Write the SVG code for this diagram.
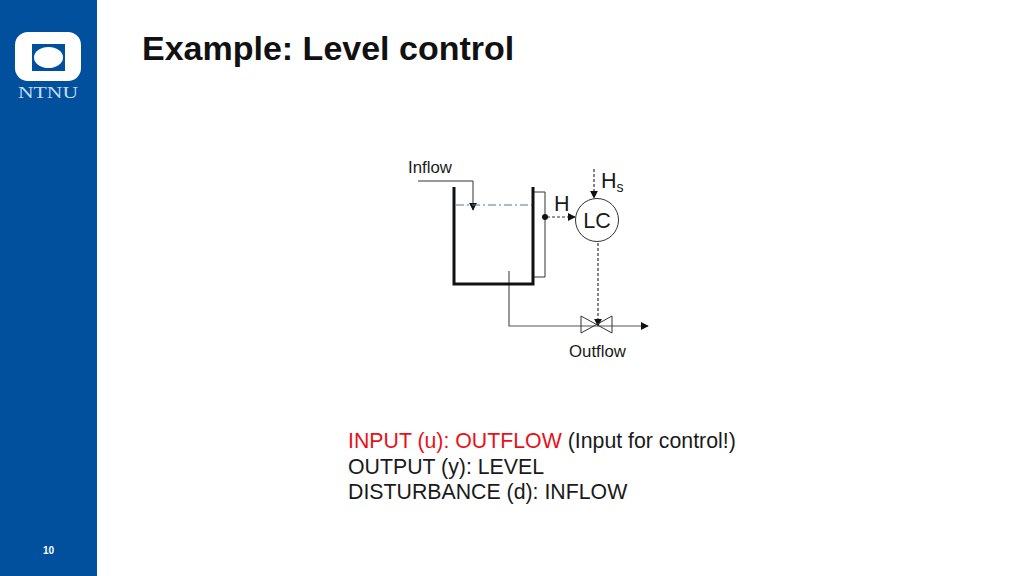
<svg xmlns="http://www.w3.org/2000/svg" width="1024" height="576" viewBox="0 0 1024 576">
<style>
text{font-family:"Liberation Sans",Arial,sans-serif;fill:#1a1a1a}
.d{fill:none;stroke:#333;stroke-width:1.200;stroke-dasharray:3 2}
.t{fill:none;stroke:#333;stroke-width:1}
.p{fill:none;stroke:#555;stroke-width:1.200}
.big{font-size:21.500px}
.lbl{font-size:16.800px}
.body{font-size:21.300px}
</style>
<defs>
<marker id="ah" viewBox="0 0 10 10" refX="9" refY="5" markerWidth="8" markerHeight="8" markerUnits="userSpaceOnUse" orient="auto"><path d="M0 0L10 5L0 10Z" fill="#111"/></marker>
</defs>
<rect width="1024" height="576" fill="#fff"/>
<g id="sidebar">
<rect width="97" height="576" fill="#00509e"/>
<rect x="15" y="32" width="66" height="49" rx="13" fill="#fff"/>
<rect x="32" y="44" width="33" height="27" fill="#00509e"/>
<ellipse cx="48.500" cy="57.500" rx="14.500" ry="10.500" fill="#fff"/>
<text x="48" y="97.500" text-anchor="middle" textLength="60" lengthAdjust="spacingAndGlyphs" style="font-family:'Liberation Serif',serif;font-size:16.500px;fill:#c4dcf2">NTNU</text>
<text x="48.500" y="554" text-anchor="middle" style="font-size:10px;font-weight:bold;fill:#fff">10</text>
</g>
<text id="title" x="142" y="60" style="font-size:34px;font-weight:bold;fill:#111">Example: Level control</text>
<g id="connectors">
<path class="t" d="M418 181H473V210" marker-end="url(#ah)"/>
<path d="M456 205H532" fill="none" stroke="#4f7a9c" stroke-width="1" stroke-dasharray="8 3 2 3"/>
<path class="t" d="M534 192H545V277H534"/>
<path class="d" d="M547 217H575" marker-end="url(#ah)"/>
<path class="d" d="M594 169V198" marker-end="url(#ah)"/>
<path class="d" d="M598 243V326" marker-end="url(#ah)"/>
<path class="p" d="M509 271V326H648" marker-end="url(#ah)"/>
</g>
<g id="tank">
<path d="M454 187V284H533V187" fill="none" stroke="#111" stroke-width="3"/>
<circle cx="545" cy="217" r="3" fill="#111"/>
</g>
<g id="valve"><path class="t" d="M581 316L612 333V316L581 333Z"/></g>
<g id="lc">
<circle cx="597" cy="220" r="21.500" fill="#fff" stroke="#333" stroke-width="1"/>
<text class="big" x="597" y="228" text-anchor="middle">LC</text>
</g>
<text id="inflow" class="lbl" x="408" y="173">Inflow</text>
<text id="outflow" class="lbl" x="569" y="357">Outflow</text>
<text id="h" class="big" x="554" y="211">H</text>
<text id="hs" class="big" x="601" y="188">H<tspan font-size="14" dy="4">s</tspan></text>
<g id="notes" class="body">
<text x="348" y="448"><tspan style="fill:#e8111a">INPUT (u): OUTFLOW</tspan> (Input for control!)</text>
<text x="348" y="474">OUTPUT (y): LEVEL</text>
<text x="348" y="499">DISTURBANCE (d): INFLOW</text>
</g>
</svg>
